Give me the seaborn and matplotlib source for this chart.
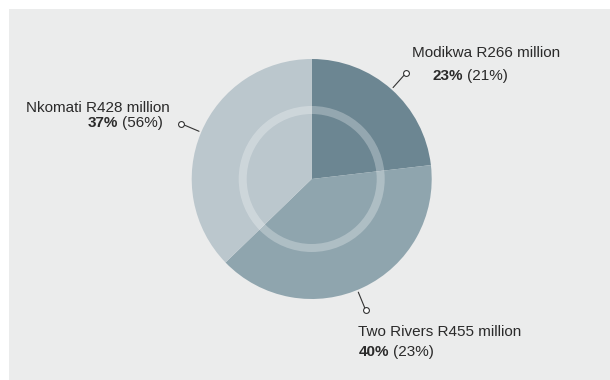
import numpy as np
import matplotlib
matplotlib.use("Agg")
import matplotlib.pyplot as plt
from matplotlib.patches import Rectangle, Circle
import seaborn as sns

# ---- data ----
mines = ["Modikwa", "Two Rivers", "Nkomati"]
values_rm = [266, 455, 428]          # R million
share_pct = ["23%", "40%", "37%"]
prev_pct = ["(21%)", "(23%)", "(56%)"]

sns.set_theme(style="white")
plt.rcParams['font.family'] = ['Liberation Sans', 'DejaVu Sans']

colors = sns.color_palette(["#6c8692", "#8fa5ae", "#bbc7cd"])
bg = "#ebecec"
txt_col = "#2a2a2a"

W, H = 610, 380
fig = plt.figure(figsize=(W / 100, H / 100), dpi=100)
fig.patch.set_facecolor("white")
ax = fig.add_axes([0, 0, 1, 1])

ax.add_patch(Rectangle((9, 0), W - 9, H - 9, facecolor=bg, edgecolor="none", zorder=0))

cx, cy, R = 311.7, H - 179, 120
wedges, _ = ax.pie(values_rm, colors=colors, startangle=90, counterclock=False,
                   center=(cx, cy), radius=R,
                   wedgeprops=dict(linewidth=0, edgecolor="none"))
for w in wedges:
    w.set_zorder(2)

ax.add_patch(Circle((cx, cy), 69, fill=False, edgecolor="white", alpha=0.28,
                    linewidth=8 * 72 / 100, zorder=3))

ax.set_xlim(0, W)
ax.set_ylim(0, H)
ax.set_aspect("auto")
ax.axis("off")

fs = 11.0
renderer = fig.canvas.get_renderer()

# label layout: angle tweak (deg), (dx, dy) offsets in px from marker for line1 / line2
layout = {
    "Modikwa": dict(da=0, l1=(6, 20), l2=(27, -3), ha="left"),
    "Two Rivers": dict(da=-3, l1=(-7.3, -22.1), l2=(-7.3, -41.6), ha="left"),
    "Nkomati": dict(da=0, l1=(-11.7, 16), l2=(-18.7, 0.3), ha="right"),
}

for i, w in enumerate(wedges):
    lay = layout[mines[i]]
    mid = np.deg2rad((w.theta1 + w.theta2) / 2 + lay["da"])
    x0, y0 = cx + 1.02 * R * np.cos(mid), cy + 1.02 * R * np.sin(mid)
    x1, y1 = cx + 1.18 * R * np.cos(mid), cy + 1.18 * R * np.sin(mid)
    ax.plot([x0, x1], [y0, y1], color="#333333", lw=0.8, zorder=4)
    ax.plot([x1], [y1], marker="o", ms=4.2, mfc="white", mec="#333333", mew=0.8, zorder=5)

    ax.text(x1 + lay["l1"][0], y1 + lay["l1"][1], f"{mines[i]} R{values_rm[i]} million",
            ha=lay["ha"], va="center", fontsize=fs, color=txt_col, zorder=6)

    lx, ly = x1 + lay["l2"][0], y1 + lay["l2"][1]
    if lay["ha"] == "left":
        tb = ax.text(lx, ly, share_pct[i], ha="left", va="center", fontsize=fs,
                     fontweight="bold", color=txt_col, zorder=6)
        bb = tb.get_window_extent(renderer)
        ax.text(bb.x1 + 4, ly, prev_pct[i], ha="left", va="center", fontsize=fs,
                color=txt_col, zorder=6)
    else:
        tn = ax.text(lx, ly, prev_pct[i], ha="right", va="center", fontsize=fs,
                     color=txt_col, zorder=6)
        bb = tn.get_window_extent(renderer)
        ax.text(bb.x0 - 4, ly, share_pct[i], ha="right", va="center", fontsize=fs,
                fontweight="bold", color=txt_col, zorder=6)

fig.savefig("out.png", dpi=100, facecolor=fig.get_facecolor())
